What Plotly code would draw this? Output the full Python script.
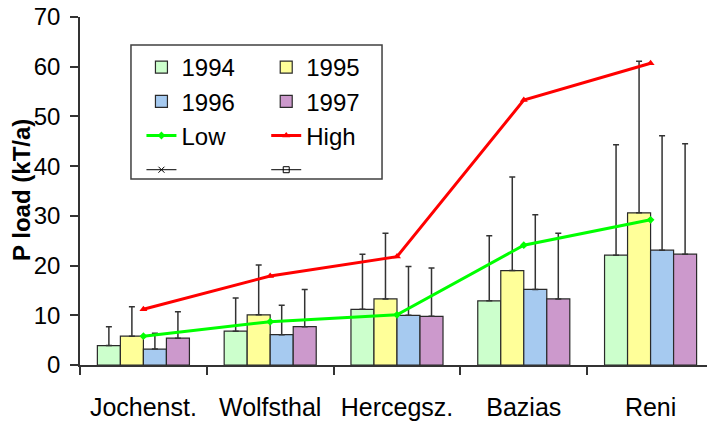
import plotly.graph_objects as go

# stations along the river
stations = ["Jochenst.", "Wolfsthal", "Hercegsz.", "Bazias", "Reni"]

# yearly P load (kT/a), bar heights
load_1994 = [3.9, 6.8, 11.2, 12.9, 22.1]
load_1995 = [5.8, 10.1, 13.3, 19.0, 30.6]
load_1996 = [3.2, 6.1, 10.0, 15.2, 23.1]
load_1997 = [5.4, 7.7, 9.8, 13.3, 22.3]

# upper end of the error whiskers
top_1994 = [7.7, 13.5, 22.3, 26.0, 44.3]
top_1995 = [11.7, 20.1, 26.5, 37.8, 61.1]
top_1996 = [6.4, 12.0, 19.8, 30.2, 46.1]
top_1997 = [10.7, 15.2, 19.5, 26.5, 44.5]

# low / high estimates
low = [5.8, 8.7, 10.1, 24.1, 29.2]
high = [11.2, 17.9, 21.8, 53.3, 60.7]

FONT = "Arial, Liberation Sans, sans-serif"
EDGE = "#2a2a2a"

fig = go.Figure()

bars = [
    ("1994", load_1994, top_1994, "#CCFFCC", "legend"),
    ("1995", load_1995, top_1995, "#FFFF99", "legend2"),
    ("1996", load_1996, top_1996, "#A6CAF0", "legend"),
    ("1997", load_1997, top_1997, "#CC99CC", "legend2"),
]
for name, vals, tops, color, leg in bars:
    plus = [t - v for t, v in zip(tops, vals)]
    fig.add_trace(go.Bar(
        x=stations, y=vals, name=name, legend=leg,
        marker=dict(color=color, line=dict(color=EDGE, width=1.2)),
        error_y=dict(type="data", array=plus, symmetric=False,
                     arrayminus=[0] * len(vals), color="#333333",
                     thickness=1.5, width=3),
    ))

fig.add_trace(go.Scatter(
    x=stations, y=low, name="Low", legend="legend", mode="lines+markers",
    line=dict(color="#00FF00", width=3),
    marker=dict(symbol="diamond", size=6, color="#00FF00"),
))
fig.add_trace(go.Scatter(
    x=stations, y=high, name="High", legend="legend2", mode="lines+markers",
    line=dict(color="#FF0000", width=3),
    marker=dict(symbol="triangle-up", size=7, color="#FF0000"),
))

# two unnamed legend entries
fig.add_trace(go.Scatter(
    x=[None], y=[None], name=" ", legend="legend", mode="lines+markers",
    line=dict(color="black", width=1),
    marker=dict(symbol="x-thin", size=6, line=dict(color="black", width=1)),
))
fig.add_trace(go.Scatter(
    x=[None], y=[None], name=" ", legend="legend2", mode="lines+markers",
    line=dict(color="black", width=1),
    marker=dict(symbol="square-open", size=6, color="black",
                line=dict(color="black", width=1)),
))

leg_style = dict(font=dict(family=FONT, size=24, color="black"),
                 bgcolor="rgba(0,0,0,0)", borderwidth=0,
                 xanchor="left", yanchor="top", traceorder="normal")

fig.update_layout(
    width=707, height=421,
    margin=dict(l=80, r=0, t=17, b=56),
    paper_bgcolor="white", plot_bgcolor="white",
    font=dict(family=FONT, color="black"),
    barmode="group", bargap=0.274, bargroupgap=0,
    legend=dict(x=0.098, y=0.9195, **leg_style),
    legend2=dict(x=0.297, y=0.9195, **leg_style),
    xaxis=dict(
        type="category", range=[-0.5, 4.445], tickson="boundaries",
        ticks="outside", ticklen=8, tickcolor="#333333", tickwidth=1.5,
        showline=True, linecolor="#333333", linewidth=1.5,
        showgrid=False, ticklabelstandoff=19,
        tickfont=dict(family=FONT, size=25, color="black"),
    ),
    xaxis2=dict(
        overlaying="x", anchor="y", range=[-0.5, 4.445],
        tickvals=[-0.5, 0.5, 1.5, 2.5, 3.5, 4.5],
        ticks="inside", ticklen=8, tickcolor="#333333", tickwidth=1.5,
        showticklabels=False, showline=False, showgrid=False, zeroline=False,
    ),
    yaxis=dict(
        range=[0, 70], dtick=10, ticks="outside", ticklen=8,
        tickcolor="#333333", tickwidth=1.5,
        showline=True, linecolor="#333333", linewidth=1.5,
        showgrid=False, zeroline=False, ticklabelstandoff=5,
        tickfont=dict(family=FONT, size=24, color="black"),
    ),
    shapes=[dict(type="rect", xref="paper", yref="paper",
                 x0=0.0813, x1=0.4817, y0=0.5345, y1=0.9195,
                 line=dict(color="#404040", width=1.5))],
    annotations=[dict(text="<b>P load (kT/a)</b>", xref="paper", yref="paper",
                      x=-0.0925, y=0.503, textangle=-90, showarrow=False,
                      xanchor="center", yanchor="middle",
                      font=dict(family=FONT, size=24, color="black"))],
)

fig.write_html("out.html", config={"displayModeBar": False},
               post_script="document.body.style.margin='0';")
